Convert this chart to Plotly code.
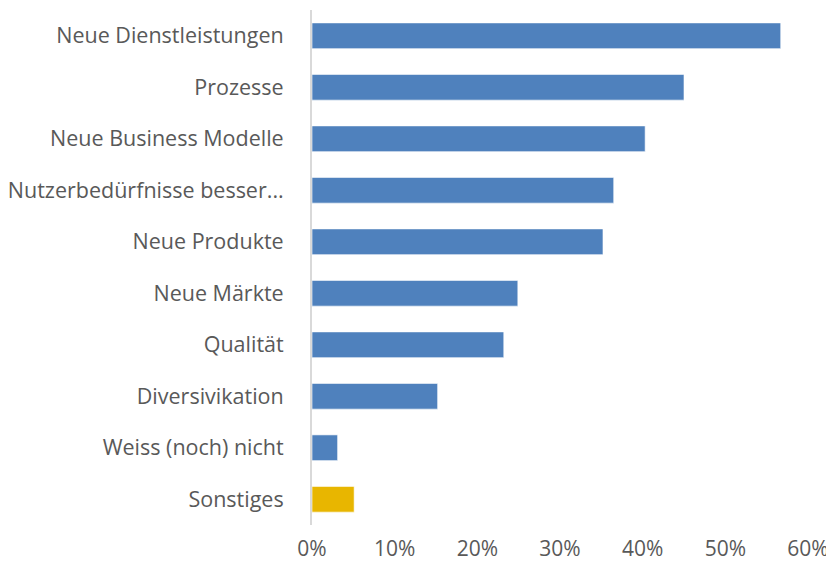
import plotly.graph_objects as go

categories = [
    "Neue Dienstleistungen",
    "Prozesse",
    "Neue Business Modelle",
    "Nutzerbedürfnisse besser...",
    "Neue Produkte",
    "Neue Märkte",
    "Qualität",
    "Diversivikation",
    "Weiss (noch) nicht",
    "Sonstiges",
]
values = [0.567, 0.450, 0.403, 0.365, 0.352, 0.249, 0.232, 0.152, 0.031, 0.051]
bar_colors = ["#4f81bd"] * 9 + ["#e8b600"]
tick_vals = [0, 0.1, 0.2, 0.3, 0.4, 0.5, 0.6]
tick_text = ["0%", "10%", "20%", "30%", "40%", "50%", "60%"]

fig = go.Figure(
    go.Bar(
        x=values,
        y=categories,
        orientation="h",
        marker=dict(color=bar_colors, line=dict(color="rgba(255,255,255,0.6)", width=1)),
        width=0.5,
    )
)

# the page body adds an 8px offset on every side; size and margins compensate
fig.update_layout(
    width=826,
    height=554,
    margin=dict(l=304, r=26, t=2, b=37),
    paper_bgcolor="white",
    plot_bgcolor="white",
    font=dict(family="Open Sans, sans-serif", color="#595959", size=20),
    showlegend=False,
    bargap=0.5,
)
fig.update_xaxes(
    range=[0, 0.6],
    tickvals=tick_vals,
    ticktext=tick_text,
    showgrid=False,
    zeroline=False,
    showline=False,
    ticks="",
    automargin=False,
    ticklabelstandoff=9,
    tickfont=dict(size=21),
)
fig.update_yaxes(
    autorange="reversed",
    showgrid=False,
    zeroline=False,
    showline=True,
    linecolor="#d9d9d9",
    linewidth=2,
    ticks="",
    automargin=False,
    ticklabelstandoff=22,
    tickfont=dict(size=21.5),
)

fig.write_html("out.html")
